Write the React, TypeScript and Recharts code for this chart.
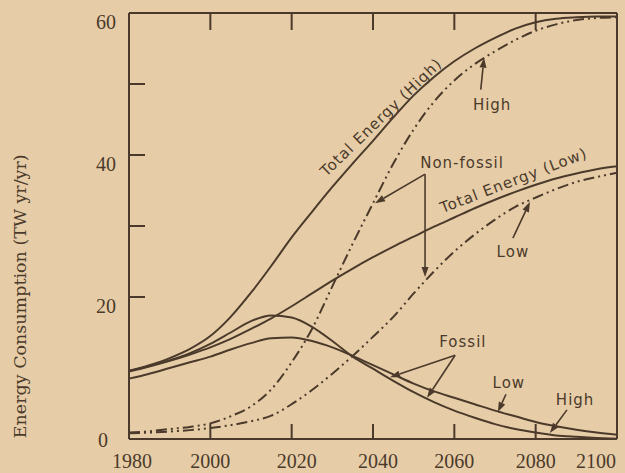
import React from 'react'
import { LineChart, Line, XAxis, YAxis, ReferenceLine, ReferenceDot } from 'recharts'

// values, every 5 years
const years = [1980, 1985, 1990, 1995, 2000, 2005, 2010, 2015, 2020, 2025, 2030, 2035, 2040, 2045, 2050, 2055, 2060, 2065, 2070, 2075, 2080, 2085, 2090, 2095, 2100]
const totalHigh = [9.6, 10.4, 11.4, 12.7, 14.5, 17.2, 20.6, 24.4, 28.4, 32.0, 35.5, 38.8, 42.0, 45.3, 48.4, 51.0, 53.2, 55.0, 56.5, 57.8, 58.7, 59.2, 59.4, 59.5, 59.5]
const totalLow = [9.5, 10.2, 11.0, 11.9, 12.9, 14.1, 15.5, 17.0, 18.7, 20.5, 22.3, 24.0, 25.6, 27.1, 28.5, 29.9, 31.2, 32.5, 33.7, 34.8, 35.8, 36.7, 37.4, 38.0, 38.4]
const fossilHigh = [9.6, 10.3, 11.1, 12.1, 13.4, 15.0, 16.6, 17.4, 17.1, 15.8, 13.8, 11.6, 9.9, 8.2, 6.6, 5.2, 4.0, 3.0, 2.1, 1.4, 0.9, 0.5, 0.3, 0.15, 0.05]
const fossilLow = [8.5, 9.2, 10.0, 10.8, 11.6, 12.6, 13.5, 14.2, 14.3, 13.8, 12.9, 11.7, 10.4, 9.1, 7.8, 6.7, 5.8, 4.9, 4.0, 3.2, 2.4, 1.8, 1.3, 0.9, 0.6]
const nonFossilHigh = [0.9, 1.1, 1.4, 1.7, 2.2, 3.2, 4.6, 7.0, 10.8, 15.5, 21.5, 27.5, 33.2, 38.8, 43.6, 47.5, 50.5, 52.8, 54.6, 56.2, 57.5, 58.4, 59.0, 59.3, 59.4]
const nonFossilLow = [0.8, 0.9, 1.05, 1.25, 1.55, 1.95, 2.5, 3.3, 4.9, 6.9, 9.2, 11.7, 14.4, 17.2, 20.5, 23.6, 26.4, 28.8, 30.9, 32.7, 34.0, 35.2, 36.2, 36.9, 37.5]

const xTicks = [1980, 2000, 2020, 2040, 2060, 2080, 2100]
const yTicks = [0, 10, 20, 30, 40, 50, 60]
const yLabelled = [0, 20, 40, 60]

// hand lettering on the figure: [text, year, value, angle]
const notes: [string, number, number, number][] = [
  ['Total Energy (High)', 2042.0, 45.3, -44],
  ['High', 2069.3, 47.0, 0],
  ['Non-fossil', 2061.9, 38.9, 0],
  ['Total Energy (Low)', 2074.6, 36.4, -21],
  ['Low', 2074.4, 26.3, 0],
  ['Fossil', 2062.1, 13.7, 0],
  ['Low', 2073.4, 7.9, 0],
  ['High', 2089.7, 5.5, 0],
]

// arrows: [fromYear, fromValue, toYear, toValue]
const arrows: [number, number, number, number][] = [
  [2066.5, 49.2, 2067.3, 53.7],
  [2052.8, 37.3, 2040.5, 33.2],
  [2052.8, 37.3, 2052.8, 22.8],
  [2074.4, 28.3, 2078.6, 33.4],
  [2060.2, 11.8, 2044.2, 8.7],
  [2060.2, 11.8, 2053.3, 5.8],
  [2072.7, 6.3, 2070.7, 3.8],
  [2087.7, 4.1, 2083.5, 0.85],
]

const data = years.map((year, i) => ({
  year,
  totalHigh: totalHigh[i],
  totalLow: totalLow[i],
  fossilHigh: fossilHigh[i],
  fossilLow: fossilLow[i],
  nonFossilHigh: nonFossilHigh[i],
  nonFossilLow: nonFossilLow[i],
}))

const paper = '#e6cda7'
const ink = '#4b3a2b'
const serif = '"DejaVu Serif", serif'
const numFont = '"Liberation Serif", serif'
const sans = '"DejaVu Sans", sans-serif'
const dashDotDot = '11 4 2 4 2 4'

function BottomTick(p: any) {
  const v = p.payload.value
  const inner = v > 1980 && v < 2100
  // the print sits a little off the tick at both ends
  const dx = v === 1980 ? 3 : v === 2100 ? -13 : v === 2020 || v === 2040 ? 5 : 0
  return (
    <g>
      {inner && <line x1={p.x} x2={p.x} y1={p.y} y2={p.y - 15} stroke={ink} strokeWidth={2} />}
      <text x={p.x + dx} y={p.y + 29} textAnchor="middle" fill={ink} fontFamily={numFont} fontSize={20}>{v}</text>
    </g>
  )
}

function TopTick(p: any) {
  return <line x1={p.x} x2={p.x} y1={p.y} y2={p.y + 17} stroke={ink} strokeWidth={2} />
}

function LeftTick(p: any) {
  const v = p.payload.value
  const inner = v >= 20 && v < 60
  const dy = v === 0 ? 1 : 9
  return (
    <g>
      {inner && <line x1={p.x} x2={p.x + 16} y1={p.y} y2={p.y} stroke={ink} strokeWidth={2} />}
      {yLabelled.includes(v) && (
        <text x={v === 0 ? p.x - 21 : p.x - 13} y={p.y + dy} textAnchor="end" dominantBaseline="central" fill={ink} fontFamily={numFont} fontSize={20}>{v}</text>
      )}
    </g>
  )
}

function RightTick(p: any) {
  return <line x1={p.x} x2={p.x - 17} y1={p.y} y2={p.y} stroke={ink} strokeWidth={2} />
}

function Arrow(p: any) {
  const { x1, y1, x2, y2 } = p
  const a = Math.atan2(y2 - y1, x2 - x1)
  const len = 10
  const w = 3.5
  const bx = x2 - len * Math.cos(a)
  const by = y2 - len * Math.sin(a)
  const pts = `${x2},${y2} ${bx + w * Math.sin(a)},${by - w * Math.cos(a)} ${bx - w * Math.sin(a)},${by + w * Math.cos(a)}`
  return (
    <g>
      <line x1={x1} y1={y1} x2={bx} y2={by} stroke={ink} strokeWidth={1.6} />
      <polygon points={pts} fill={ink} />
    </g>
  )
}

function noteShape(text: string, angle: number) {
  return (p: any) => (
    <text
      x={p.cx}
      y={p.cy}
      transform={angle ? `rotate(${angle} ${p.cx} ${p.cy})` : undefined}
      textAnchor="middle"
      dominantBaseline="central"
      fill={ink}
      fontFamily={sans}
      fontSize={15}
      letterSpacing={1}
    >
      {text}
    </text>
  )
}

function YTitle(props: any) {
  const vb = props.viewBox
  const cx = 20
  const cy = vb.y + vb.height * 0.665
  return (
    <text x={cx} y={cy} transform={`rotate(-90 ${cx} ${cy})`} textAnchor="middle" dominantBaseline="central" fill={ink} fontFamily={serif} fontSize={17.5}>
      Energy Consumption (TW yr/yr)
    </text>
  )
}

export default function App() {
  return (
    <div style={{ position: 'absolute', left: 0, top: 0, width: 625, height: 473, background: paper }}>
      <LineChart width={625} height={473} data={data} margin={{ top: 12, right: 7, bottom: 4, left: 89 }}>
        <XAxis
          dataKey="year"
          type="number"
          domain={[1980, 2100]}
          ticks={xTicks}
          height={30}
          tickSize={0}
          tickMargin={0}
          tickLine={false}
          tick={<BottomTick />}
          axisLine={{ stroke: ink, strokeWidth: 2 }}
        />
        <XAxis
          xAxisId="top"
          orientation="top"
          dataKey="year"
          type="number"
          domain={[1980, 2100]}
          ticks={[2000, 2020, 2040, 2060, 2080]}
          height={1}
          tickSize={0}
          tickMargin={0}
          tickLine={false}
          tick={<TopTick />}
          axisLine={{ stroke: ink, strokeWidth: 2 }}
        />
        <YAxis
          domain={[0, 60]}
          ticks={yTicks}
          width={40}
          tickSize={0}
          tickMargin={0}
          tickLine={false}
          tick={<LeftTick />}
          axisLine={{ stroke: ink, strokeWidth: 2 }}
          label={{ content: <YTitle /> }}
        />
        <YAxis
          yAxisId="right"
          orientation="right"
          domain={[0, 60]}
          ticks={[10, 20, 30, 40, 50]}
          width={1}
          tickSize={0}
          tickMargin={0}
          tickLine={false}
          tick={<RightTick />}
          axisLine={{ stroke: ink, strokeWidth: 2 }}
        />

        <Line type="monotone" dataKey="totalHigh" stroke={ink} strokeWidth={2} dot={false} isAnimationActive={false} />
        <Line type="monotone" dataKey="totalLow" stroke={ink} strokeWidth={2} dot={false} isAnimationActive={false} />
        <Line type="monotone" dataKey="fossilHigh" stroke={ink} strokeWidth={2} dot={false} isAnimationActive={false} />
        <Line type="monotone" dataKey="fossilLow" stroke={ink} strokeWidth={2} dot={false} isAnimationActive={false} />
        <Line type="monotone" dataKey="nonFossilHigh" stroke={ink} strokeWidth={2} strokeDasharray={dashDotDot} dot={false} isAnimationActive={false} />
        <Line type="monotone" dataKey="nonFossilLow" stroke={ink} strokeWidth={2} strokeDasharray={dashDotDot} dot={false} isAnimationActive={false} />

        {arrows.map(([x1, y1, x2, y2], i) => (
          <ReferenceLine key={'a' + i} segment={[{ x: x1, y: y1 }, { x: x2, y: y2 }]} shape={Arrow} />
        ))}
        {notes.map(([text, x, y, angle], i) => (
          <ReferenceDot key={'n' + i} x={x} y={y} r={1} shape={noteShape(text, angle)} />
        ))}
      </LineChart>
    </div>
  )
}
